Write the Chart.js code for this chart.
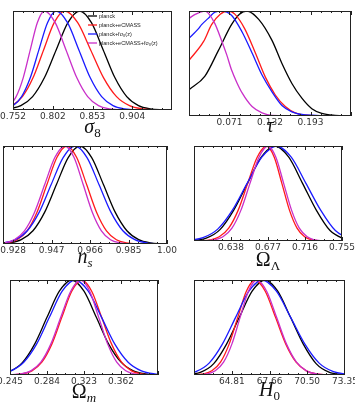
<!DOCTYPE html>
<html>
<head>
<meta charset="utf-8">
<script src="https://cdn.jsdelivr.net/npm/chart.js@4.4.1/dist/chart.umd.min.js"></script>
<style>
html, body { margin: 0; padding: 0; background: #fff; }
body { width: 355px; height: 404px; overflow: hidden; position: relative; }
.panel { position: absolute; }
</style>
</head>
<body>
<script>
// series: planck, planck+eCMASS, planck+fs8, planck+eCMASS+fs8
const seriesNames = ['planck', 'planck+eCMASS', 'planck+fσ₈(z)', 'planck+eCMASS+fσ₈(z)'];
const seriesColors = ['#000000', '#ff1a1a', '#1a1aff', '#c92fc9'];

// sigma_8
const sig8Range = [0.752, 0.9547];
const sig8Ticks = [0.7520, 0.8027, 0.8533, 0.9040, 0.9547];
const sig8Labels = ['0.752', '0.802', '0.853', '0.904', ''];
const sig8Planck = [[0.747,0.011],[0.762,0.044],[0.777,0.135],[0.792,0.325],[0.807,0.607],[0.822,0.882],[0.837,1],[0.852,0.882],[0.867,0.607],[0.882,0.325],[0.897,0.135],[0.912,0.044],[0.927,0.011],[0.942,0.002],[0.955,0]];
const sig8Ecmass = [[0.737,0.011],[0.7505,0.044],[0.764,0.135],[0.7775,0.325],[0.791,0.607],[0.8045,0.882],[0.818,1],[0.8345,0.882],[0.851,0.607],[0.8675,0.325],[0.884,0.135],[0.9005,0.044],[0.917,0.011],[0.9335,0.002],[0.955,0]];
const sig8Fs8 = [[0.741,0.011],[0.752,0.044],[0.763,0.135],[0.774,0.325],[0.785,0.607],[0.796,0.882],[0.807,1],[0.8215,0.882],[0.836,0.607],[0.8505,0.325],[0.865,0.135],[0.8795,0.044],[0.894,0.011],[0.9085,0.002],[0.955,0]];
const sig8All = [[0.738,0.011],[0.747,0.044],[0.756,0.135],[0.765,0.325],[0.774,0.607],[0.783,0.882],[0.792,1],[0.8058,0.882],[0.8196,0.607],[0.8334,0.325],[0.8472,0.135],[0.861,0.044],[0.8748,0.011],[0.8886,0.002],[0.955,0]];

// tau
const tauRange = [0.010, 0.254];
const tauTicks = [0.010, 0.071, 0.132, 0.193, 0.254];
const tauLabels = ['', '0.071', '0.132', '0.193', ''];
const tauPlanck = [[0.010,0.25],[0.034,0.38],[0.054,0.62],[0.074,0.87],[0.086,0.97],[0.097,1.0],[0.115,0.92],[0.135,0.72],[0.150,0.50],[0.165,0.31],[0.180,0.17],[0.195,0.07],[0.210,0.025],[0.230,0.006],[0.254,0]];
const tauEcmass = [[0.010,0.53],[0.032,0.71],[0.044,0.87],[0.057,0.97],[0.069,1.0],[0.079,0.97],[0.094,0.83],[0.110,0.60],[0.125,0.37],[0.140,0.20],[0.155,0.09],[0.170,0.03],[0.190,0.006],[0.254,0]];
const tauFs8 = [[0.010,0.74],[0.024,0.83],[0.029,0.87],[0.039,0.93],[0.049,0.99],[0.059,1.0],[0.074,0.96],[0.090,0.80],[0.105,0.60],[0.120,0.39],[0.135,0.23],[0.150,0.10],[0.165,0.04],[0.185,0.01],[0.254,0]];
const tauAll = [[0.010,0.93],[0.020,0.97],[0.034,1.0],[0.039,0.98],[0.049,0.88],[0.059,0.72],[0.067,0.58],[0.074,0.44],[0.082,0.32],[0.090,0.22],[0.105,0.09],[0.120,0.03],[0.135,0.006],[0.254,0]];

// n_s
const nsRange = [0.923, 1.004];
const nsTicks = [0.928, 0.947, 0.966, 0.985, 1.004];
const nsLabels = ['0.928', '0.947', '0.966', '0.985', '1.00'];
const nsPlanck = [[0.920,0.001],[0.9262,0.011],[0.932,0.044],[0.9378,0.135],[0.9436,0.325],[0.9494,0.607],[0.9552,0.882],[0.961,1],[0.9668,0.882],[0.9726,0.607],[0.9784,0.325],[0.9842,0.135],[0.990,0.044],[0.9958,0.011],[1.0016,0.002]];
const nsEcmass = [[0.9202,0.002],[0.9251,0.011],[0.930,0.044],[0.9349,0.135],[0.9398,0.325],[0.9447,0.607],[0.9496,0.882],[0.9545,1],[0.9594,0.882],[0.9643,0.607],[0.9692,0.325],[0.9741,0.135],[0.979,0.044],[0.9839,0.011],[0.9888,0.002],[1.004,0]];
const nsFs8 = [[0.9173,0.002],[0.9232,0.011],[0.9291,0.044],[0.935,0.135],[0.9409,0.325],[0.9468,0.607],[0.9527,0.882],[0.9586,1],[0.9645,0.882],[0.9704,0.607],[0.9763,0.325],[0.9822,0.135],[0.9881,0.044],[0.994,0.011],[0.9999,0.002]];
const nsAll = [[0.9186,0.002],[0.9236,0.011],[0.9286,0.044],[0.9336,0.135],[0.9386,0.325],[0.9436,0.607],[0.9486,0.882],[0.9536,1],[0.9581,0.882],[0.9626,0.607],[0.9671,0.325],[0.9716,0.135],[0.9761,0.044],[0.9806,0.011],[0.9851,0.002],[1.004,0]];

// Omega_Lambda
const olRange = [0.599, 0.755];
const olTicks = [0.599, 0.638, 0.677, 0.716, 0.755];
const olLabels = ['', '0.638', '0.677', '0.716', '0.755'];
const olPlanck = [[0.5829,0.001],[0.5974,0.006],[0.6119,0.03],[0.6264,0.12],[0.6409,0.325],[0.6554,0.607],[0.6699,0.882],[0.6844,1],[0.6989,0.882],[0.7134,0.607],[0.7279,0.325],[0.7424,0.11],[0.7569,0.025],[0.7714,0.004]];
const olEcmass = [[0.6056,0.002],[0.6156,0.011],[0.6256,0.044],[0.6356,0.135],[0.6456,0.325],[0.6556,0.607],[0.6656,0.882],[0.6756,1],[0.6836,0.882],[0.6916,0.607],[0.6996,0.325],[0.7076,0.135],[0.7156,0.044],[0.7236,0.011],[0.7316,0.002],[0.755,0]];
const olFs8 = [[0.5775,0.001],[0.593,0.008],[0.6085,0.035],[0.624,0.125],[0.6395,0.325],[0.655,0.607],[0.6705,0.882],[0.686,1],[0.7015,0.882],[0.717,0.607],[0.7325,0.325],[0.748,0.11],[0.7635,0.025],[0.779,0.004]];
const olAll = [[0.6105,0.002],[0.620,0.011],[0.6295,0.044],[0.639,0.135],[0.6485,0.325],[0.658,0.607],[0.6675,0.882],[0.677,1],[0.6853,0.882],[0.6935,0.607],[0.7018,0.325],[0.710,0.135],[0.7183,0.044],[0.7265,0.011],[0.7348,0.002],[0.755,0]];

// Omega_m
const omRange = [0.245, 0.401];
const omTicks = [0.245, 0.284, 0.323, 0.362, 0.401];
const omLabels = ['0.245', '0.284', '0.323', '0.362', ''];
const omPlanck = [[0.219,0.002],[0.232,0.011],[0.245,0.04],[0.258,0.13],[0.271,0.325],[0.284,0.607],[0.297,0.882],[0.310,1],[0.323,0.882],[0.336,0.607],[0.349,0.325],[0.362,0.135],[0.375,0.044],[0.388,0.011],[0.401,0.002]];
const omEcmass = [[0.245,0],[0.2471,0.002],[0.2576,0.011],[0.2681,0.044],[0.2786,0.135],[0.2891,0.325],[0.2996,0.607],[0.3101,0.882],[0.3206,1],[0.3311,0.882],[0.3416,0.607],[0.3521,0.325],[0.3626,0.135],[0.3731,0.044],[0.3836,0.011],[0.3941,0.002],[0.401,0]];
const omFs8 = [[0.219,0.002],[0.2325,0.011],[0.246,0.044],[0.2595,0.135],[0.273,0.325],[0.2865,0.607],[0.300,0.882],[0.3135,1],[0.3275,0.882],[0.3415,0.607],[0.3555,0.325],[0.3695,0.135],[0.3835,0.044],[0.3975,0.011],[0.4115,0.002]];
const omAll = [[0.245,0],[0.246,0.002],[0.2565,0.011],[0.267,0.044],[0.2775,0.135],[0.288,0.325],[0.2985,0.607],[0.309,0.882],[0.3195,1],[0.329,0.882],[0.3385,0.607],[0.348,0.325],[0.3575,0.135],[0.367,0.044],[0.3765,0.011],[0.386,0.002],[0.401,0]];

// H_0
const h0Range = [61.96, 73.35];
const h0Ticks = [61.96, 64.81, 67.66, 70.50, 73.35];
const h0Labels = ['', '64.81', '67.66', '70.50', '73.35'];
const h0Planck = [[61.52,0.006],[62.485,0.03],[63.45,0.12],[64.415,0.325],[65.38,0.607],[66.345,0.882],[67.31,1],[68.275,0.882],[69.24,0.607],[70.205,0.325],[71.17,0.12],[72.135,0.03],[73.10,0.006],[74.065,0.001]];
const h0Ecmass = [[61.96,0],[62.01,0.002],[62.66,0.011],[63.31,0.044],[63.96,0.135],[64.61,0.325],[65.26,0.607],[65.91,0.882],[66.56,1],[67.335,0.882],[68.11,0.607],[68.885,0.325],[69.66,0.135],[70.435,0.044],[71.21,0.011],[71.985,0.002],[73.35,0]];
const h0Fs8 = [[61.1,0.008],[62.1,0.035],[63.1,0.125],[64.1,0.325],[65.1,0.607],[66.1,0.882],[67.1,1],[68.175,0.882],[69.25,0.607],[70.325,0.325],[71.4,0.125],[72.475,0.035],[73.55,0.008]];
const h0All = [[61.96,0],[62.315,0.002],[62.94,0.011],[63.565,0.044],[64.19,0.135],[64.815,0.325],[65.44,0.607],[66.065,0.882],[66.69,1],[67.44,0.882],[68.19,0.607],[68.94,0.325],[69.69,0.135],[70.44,0.044],[71.19,0.011],[71.94,0.002],[73.35,0]];

// panel boxes in page pixels: [left, top, right, bottom]
const panels = [
    { box: [13, 11, 172, 110], range: sig8Range, majors: sig8Ticks, labels: sig8Labels,
      title: { text: 'σ', sub: '8', italic: true, subItalic: false, dy: 23 }, curves: [sig8Planck, sig8Ecmass, sig8Fs8, sig8All], key: true },
    { box: [189, 11, 351, 116], range: tauRange, majors: tauTicks, labels: tauLabels,
      title: { text: 'τ', sub: '', italic: true, subItalic: false, dy: 16 }, curves: [tauPlanck, tauEcmass, tauFs8, tauAll] },
    { box: [3, 146, 167, 244], range: nsRange, majors: nsTicks, labels: nsLabels,
      title: { text: 'n', sub: 's', italic: true, subItalic: true, dy: 19 }, curves: [nsPlanck, nsEcmass, nsFs8, nsAll] },
    { box: [194, 146, 342, 241], range: olRange, majors: olTicks, labels: olLabels,
      title: { text: 'Ω', sub: 'Λ', italic: false, subItalic: false, dy: 25 }, curves: [olPlanck, olEcmass, olFs8, olAll] },
    { box: [10, 280, 158, 375], range: omRange, majors: omTicks, labels: omLabels,
      title: { text: 'Ω', sub: 'm', italic: false, subItalic: true, dy: 23 }, curves: [omPlanck, omEcmass, omFs8, omAll] },
    { box: [194, 280, 345, 375], range: h0Range, majors: h0Ticks, labels: h0Labels,
      title: { text: 'H', sub: '0', italic: true, subItalic: false, dy: 21 }, curves: [h0Planck, h0Ecmass, h0Fs8, h0All] }
];

const PAD_L = 22, PAD_R = 22, PAD_T = 6, AXIS_H = 34;

// frame + inward ticks on top and bottom
const frame = {
    id: 'frame',
    afterDatasetsDraw(chart, args, o) {
        const { ctx, chartArea: a, scales: { x } } = chart;
        ctx.save();
        ctx.strokeStyle = '#222';
        ctx.lineWidth = 1;
        ctx.strokeRect(a.left + 0.5, a.top + 0.5, a.width - 1, a.height - 1);
        const mj = o.majors, step = (mj[1] - mj[0]) / 4;
        ctx.beginPath();
        for (let k = -8; k <= 20; k++) {
            const v = mj[0] + k * step;
            if (v < x.min - 1e-9 || v > x.max + 1e-9) continue;
            const px = Math.round(x.getPixelForValue(v)) + 0.5;
            const len = k % 4 === 0 ? 4 : 2;
            ctx.moveTo(px, a.bottom); ctx.lineTo(px, a.bottom - len);
            ctx.moveTo(px, a.top); ctx.lineTo(px, a.top + len);
        }
        ctx.stroke();
        ctx.restore();
    }
};

// axis symbol with subscript
const axisTitle = {
    id: 'axisTitle',
    afterDraw(chart, args, o) {
        const { ctx, chartArea: a } = chart;
        const big = (o.italic ? 'italic ' : '') + '20px "Liberation Serif"';
        const small = (o.subItalic ? 'italic ' : '') + '13px "Liberation Serif"';
        ctx.save();
        ctx.font = big; const w1 = ctx.measureText(o.text).width;
        ctx.font = small; const w2 = ctx.measureText(o.sub).width;
        const x0 = (a.left + a.right) / 2 - (w1 + w2) / 2;
        const y = a.bottom + o.dy;
        ctx.fillStyle = '#111';
        ctx.textBaseline = 'alphabetic';
        ctx.font = big; ctx.fillText(o.text, x0, y);
        ctx.font = small; ctx.fillText(o.sub, x0 + w1, y + 4);
        ctx.restore();
    }
};

// little legend in the first panel
const curveKey = {
    id: 'curveKey',
    afterDraw(chart, args, o) {
        if (!o.show) return;
        const { ctx, chartArea: a } = chart;
        ctx.save();
        ctx.font = '5.5px "Liberation Sans"';
        ctx.textBaseline = 'middle';
        seriesNames.forEach((name, i) => {
            const y = a.top + 5 + i * 9;
            ctx.strokeStyle = seriesColors[i];
            ctx.lineWidth = 1.3;
            ctx.beginPath(); ctx.moveTo(a.left + 75, y); ctx.lineTo(a.left + 84, y); ctx.stroke();
            ctx.fillStyle = '#222';
            ctx.fillText(name, a.left + 86, y);
        });
        ctx.restore();
    }
};

panels.forEach(p => {
    const [l, t, r, b] = p.box;
    const W = r - l + PAD_L + PAD_R, H = b - t + PAD_T + AXIS_H;
    const wrap = document.createElement('div');
    wrap.className = 'panel';
    wrap.style.cssText = `left:${l - PAD_L}px;top:${t - PAD_T}px;width:${W}px;height:${H}px`;
    const cv = document.createElement('canvas');
    cv.width = W; cv.height = H;
    wrap.appendChild(cv);
    document.body.appendChild(wrap);

    new Chart(cv, {
        type: 'line',
        data: {
            datasets: p.curves.map((pts, i) => ({
                data: pts.map(([x, y]) => ({ x, y })),
                borderColor: seriesColors[i],
                borderWidth: 1.3,
                pointRadius: 0,
                fill: false,
                cubicInterpolationMode: 'monotone',
                order: 4 - i
            }))
        },
        options: {
            responsive: false,
            animation: false,
            layout: { padding: { left: PAD_L, right: PAD_R, top: PAD_T, bottom: 0 } },
            scales: {
                x: {
                    type: 'linear', min: p.range[0], max: p.range[1],
                    grid: { display: false, drawTicks: false }, border: { display: false },
                    afterBuildTicks: s => { s.ticks = p.majors.map(v => ({ value: v })); },
                    afterFit: s => { s.height = AXIS_H; },
                    ticks: {
                        autoSkip: false, maxRotation: 0, padding: 1, color: '#333',
                        font: { family: 'DejaVu Sans', size: 9 },
                        callback: (v, i) => p.labels[i]
                    }
                },
                y: { display: false, min: 0, max: 1 }
            },
            plugins: {
                legend: { display: false },
                tooltip: { enabled: false },
                frame: { majors: p.majors },
                axisTitle: p.title,
                curveKey: { show: !!p.key }
            }
        },
        plugins: [frame, axisTitle, curveKey]
    });
});
</script>
</body>
</html>
